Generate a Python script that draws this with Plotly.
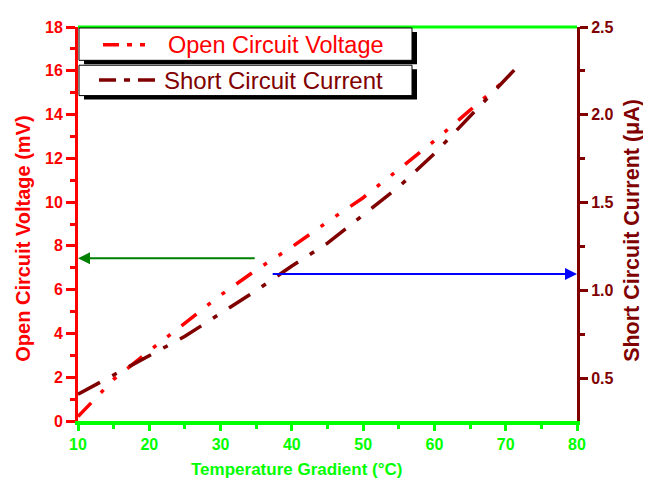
import plotly.graph_objects as go

# ---- data ----
temp_v = [10, 15, 20, 25, 30, 35, 40, 45, 50, 55, 60, 65, 70]
voltage_mv = [0.2, 1.9, 3.2, 4.5, 5.75, 6.9, 7.95, 9.1, 10.2, 11.5, 12.8, 14.2, 15.6]

temp_i = [10, 15, 20, 25, 30, 35, 40, 45, 50, 55, 60, 65, 72.5]
current_ua = [0.41, 0.52, 0.633, 0.74, 0.87, 1.0, 1.14, 1.27, 1.43, 1.59, 1.78, 1.99, 2.31]

x_ticks = [10, 20, 30, 40, 50, 60, 70, 80]
y_ticks = [0, 2, 4, 6, 8, 10, 12, 14, 16, 18]
y2_ticks = [0.5, 1.0, 1.5, 2.0, 2.5]
y2_tick_text = ["0.5", "1.0", "1.5", "2.0", "2.5"]

legend_names = ["Open Circuit Voltage", "Short Circuit Current"]
x_title = "Temperature Gradient (°C)"
y_title = "Open Circuit Voltage (mV)"
y2_title = "Short Circuit Current (μA)"

# arrows: (tail x, level) pointing to axes
green_arrow = dict(tail_x=35, level=7.43)
blue_arrow = dict(tail_x=37.1, level=1.094)

RED = "#FF0000"
MAROON = "#800000"
LIME = "#00FF00"
FONT = "Arial, Liberation Sans, sans-serif"
RED_DASH = "19px,14px,4px,14px,4px,14px"
MAROON_DASH = "25px,14px,5px,14px"

# page offset of the browser body (8px default margin)
OFF = 8
W, H = 651 - OFF, 486 - OFF
# plot area in screenshot pixels
L, R, T, B = 78, 577, 19, 421

fig = go.Figure()
fig.add_trace(go.Scatter(x=temp_v, y=voltage_mv, mode="lines", name=legend_names[0],
                         line=dict(color=RED, width=3.5, dash=RED_DASH), yaxis="y"))
fig.add_trace(go.Scatter(x=temp_i, y=current_ua, mode="lines", name=legend_names[1],
                         line=dict(color=MAROON, width=3.5, dash=MAROON_DASH), yaxis="y2"))

def px(xp):
    return (xp - L) / (R - L)

def py(yp):
    return (B - yp) / (B - T)

shapes = []
shapes.append(dict(type="line", xref="paper", yref="paper", x0=0, x1=1, y0=1, y1=1,
                   line=dict(color=LIME, width=3), layer="above"))
for (top, bot) in [(20, 53), (58, 89)]:
    shapes.append(dict(type="rect", xref="paper", yref="paper",
                       x0=px(84), x1=px(417), y0=py(bot + 4), y1=py(top + 4),
                       fillcolor="black", line=dict(width=0), layer="above"))
    shapes.append(dict(type="rect", xref="paper", yref="paper",
                       x0=px(79), x1=px(412), y0=py(bot), y1=py(top),
                       fillcolor="white", line=dict(color="black", width=1), layer="above"))
shapes.append(dict(type="line", xref="paper", yref="paper", x0=px(103), x1=px(153),
                   y0=py(37), y1=py(37), line=dict(color=RED, width=3.5, dash="16px,8px,5px,8px,5px,8px"),
                   layer="above"))
shapes.append(dict(type="line", xref="paper", yref="paper", x0=px(99), x1=px(160),
                   y0=py(73), y1=py(73), line=dict(color=MAROON, width=3.5, dash="17px,8px,6px,8px"),
                   layer="above"))

annotations = [
    dict(xref="paper", yref="paper", x=px(166), y=py(37), text=legend_names[0],
         showarrow=False, xanchor="left", yanchor="middle",
         font=dict(family=FONT, size=23.5, color=RED)),
    dict(xref="paper", yref="paper", x=px(162), y=py(74), text=legend_names[1],
         showarrow=False, xanchor="left", yanchor="middle",
         font=dict(family=FONT, size=24, color=MAROON)),
    dict(xref="paper", yref="paper", x=px(296), y=py(470), text=x_title,
         showarrow=False, xanchor="center", yanchor="middle",
         font=dict(family=FONT, size=17, color=LIME, weight="bold")),
    dict(xref="paper", yref="paper", x=px(23), y=py(235), text=y_title, textangle=-90,
         showarrow=False, xanchor="center", yanchor="middle",
         font=dict(family=FONT, size=20, color=RED, weight="bold")),
    dict(xref="paper", yref="paper", x=px(632), y=py(227), text=y2_title, textangle=-90,
         showarrow=False, xanchor="center", yanchor="middle",
         font=dict(family=FONT, size=21.5, color=MAROON, weight="bold")),
    dict(x=10, y=green_arrow["level"], xref="x", yref="y",
         ax=green_arrow["tail_x"], ay=green_arrow["level"], axref="x", ayref="y",
         showarrow=True, arrowhead=2, arrowsize=1.2, arrowwidth=2, arrowcolor="#008000", text=""),
    dict(x=80, y=blue_arrow["level"], xref="x", yref="y2",
         ax=blue_arrow["tail_x"], ay=blue_arrow["level"], axref="x", ayref="y2",
         showarrow=True, arrowhead=2, arrowsize=1.2, arrowwidth=2, arrowcolor="#0000FF", text=""),
]

fig.update_layout(
    width=W, height=H,
    margin=dict(l=L - OFF, r=W - (R - OFF), t=T - OFF, b=H - (B - OFF), pad=0),
    paper_bgcolor="white", plot_bgcolor="white",
    showlegend=False,
    font=dict(family=FONT),
    xaxis=dict(range=[10, 80], tickvals=x_ticks, ticks="outside", ticklen=6, tickwidth=3,
               tickcolor=LIME, showline=True, linecolor=LIME, linewidth=4,
               showgrid=False, zeroline=False,
               tickfont=dict(family=FONT, size=16, color=LIME, weight="bold"),
               minor=dict(dtick=5, ticks="outside", ticklen=4, tickwidth=3, tickcolor=LIME)),
    yaxis=dict(range=[0, 18], tickvals=y_ticks, ticks="outside", ticklen=9, tickwidth=3,
               tickcolor=RED, showline=True, linecolor=RED, linewidth=3,
               showgrid=False, zeroline=False,
               tickfont=dict(family=FONT, size=16, color=RED, weight="bold"),
               minor=dict(dtick=1, ticks="outside", ticklen=5, tickwidth=3, tickcolor=RED)),
    yaxis2=dict(range=[0.258, 2.5], overlaying="y", side="right", anchor="x",
                tickvals=y2_ticks, ticktext=y2_tick_text, ticks="outside", ticklen=8, tickwidth=3,
                tickcolor=MAROON, showline=True, linecolor=MAROON, linewidth=3,
                showgrid=False, zeroline=False,
                tickfont=dict(family=FONT, size=16, color=MAROON, weight="bold"),
                minor=dict(tickvals=[0.75, 1.25, 1.75, 2.25], ticks="outside", ticklen=5,
                           tickwidth=3, tickcolor=MAROON)),
    shapes=shapes,
    annotations=annotations,
)

fig.write_html("out.html")
